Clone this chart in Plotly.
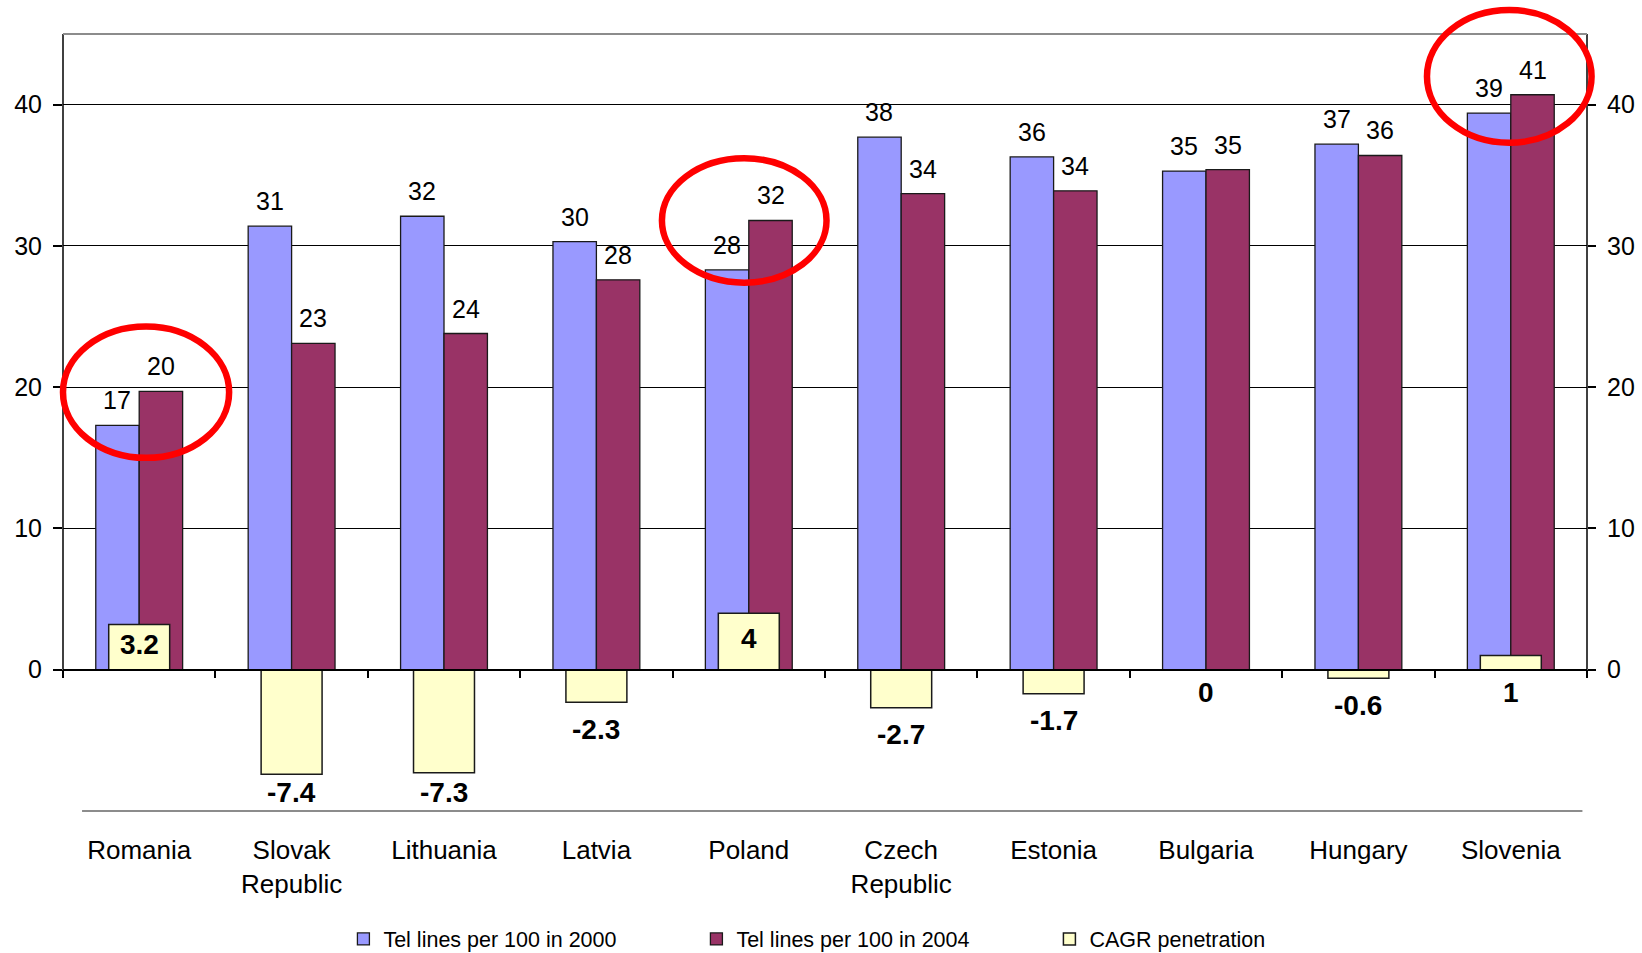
import plotly.graph_objects as go

# Fixed-line telephone penetration, 2000 vs 2004, and its compound annual growth
countries = ["Romania", "Slovak<br>Republic", "Lithuania", "Latvia", "Poland",
             "Czech<br>Republic", "Estonia", "Bulgaria", "Hungary", "Slovenia"]
lines_2000 = [17.3, 31.4, 32.1, 30.3, 28.3, 37.7, 36.3, 35.3, 37.2, 39.4]
lines_2004 = [19.7, 23.1, 23.8, 27.6, 31.8, 33.7, 33.9, 35.4, 36.4, 40.7]
cagr = [3.2, -7.4, -7.3, -2.3, 4, -2.7, -1.7, 0, -0.6, 1]
y_ticks = [0, 10, 20, 30, 40]

# Highlight rings around selected countries: (x from, x to, y from, y to) in data units
highlights = [(-0.50, 0.59, 15.0, 24.3),
              (3.43, 4.51, 27.4, 36.2),
              (8.45, 9.53, 37.3, 46.7)]

FONT = "Liberation Sans, Arial, sans-serif"
Y_RANGE = [-10, 45]
BARGAP = 0.43
N = len(countries)
PLOT_H = 953 - 34 - 142
UNIT_PX = PLOT_H / (Y_RANGE[1] - Y_RANGE[0])   # pixels per data unit

fig = go.Figure()
for name, vals, color in (("Tel lines per 100 in 2000", lines_2000, "#9999FF"),
                          ("Tel lines per 100 in 2004", lines_2004, "#993366")):
    fig.add_trace(go.Bar(
        name=name, x=countries, y=vals,
        marker=dict(color=color, line=dict(color="#1a1a1a", width=1.3)),
        xaxis="x", yaxis="y"))
fig.add_trace(go.Bar(
    name="CAGR penetration", x=countries, y=cagr, width=0.4,
    marker=dict(color="#FFFFCC", line=dict(color="#1a1a1a", width=1.5)),
    xaxis="x2", yaxis="y2"))

# Value labels above each grouped bar (bars sit half a bar width either side of the category)
half_bar = (1 - BARGAP) / 4
for i in range(N):
    for vals, side in ((lines_2000, -1), (lines_2004, 1)):
        fig.add_annotation(x=i + side * half_bar, y=vals[i], xref="x", yref="y",
                           text=f"{vals[i]:.0f}", showarrow=False, yshift=25,
                           yanchor="middle", font=dict(size=25, family=FONT, color="black"))

# CAGR value labels: inside tall positive bars, below the bar (or the zero line) otherwise,
# kept clear of the bottom edge of the plot
below_gap = 27 / UNIT_PX
lowest = Y_RANGE[0] + 1.3
for c, v in zip(countries, cagr):
    if v >= 2:
        y, shift = v / 2, 3
    elif v >= 0:
        y, shift = -23 / UNIT_PX, 0
    else:
        y, shift = max(v - below_gap, lowest), 0
    fig.add_annotation(x=c, y=y, xref="x2", yref="y2", text=f"<b>{v:g}</b>",
                       showarrow=False, yshift=shift, yanchor="middle",
                       font=dict(size=28, family=FONT, color="black"))


def px(x):
    return (x + 0.5) / N


def py(y):
    return (y - Y_RANGE[0]) / (Y_RANGE[1] - Y_RANGE[0])


shapes = []
# value axes drawn from zero up to the top of the scale
for xp in (0, 1):
    shapes.append(dict(type="line", xref="paper", yref="y", x0=xp, x1=xp,
                       y0=0, y1=Y_RANGE[1], line=dict(color="black", width=1.5),
                       layer="above"))
# grey frame line on top and the category baseline at the bottom
shapes.append(dict(type="line", xref="paper", yref="paper", x0=0, x1=1, y0=1, y1=1,
                   line=dict(color="#8c8c8c", width=2), layer="above"))
shapes.append(dict(type="line", xref="paper", yref="paper", x0=0.0125, x1=0.997,
                   y0=0, y1=0, line=dict(color="#8c8c8c", width=2), layer="above"))
for x0, x1, y0, y1 in highlights:
    shapes.append(dict(type="circle", xref="paper", yref="paper",
                       x0=px(x0), x1=px(x1), y0=py(y0), y1=py(y1),
                       line=dict(color="#FF0000", width=6.5), layer="above"))

fig.update_layout(
    width=1642, height=953,
    margin=dict(l=63, r=55, t=34, b=142, autoexpand=False),
    paper_bgcolor="white", plot_bgcolor="white",
    barmode="group", bargap=BARGAP, bargroupgap=0,
    font=dict(family=FONT, size=25, color="black"),
    shapes=shapes,
    xaxis=dict(type="category", showline=False, ticks="", tickfont=dict(size=26),
               automargin=False, ticklabelstandoff=21, showgrid=False, zeroline=False),
    xaxis2=dict(type="category", overlaying="x", anchor="free",
                position=py(0), showline=True, linecolor="black", linewidth=1.5,
                ticks="outside", ticklen=8, tickwidth=1.5, tickcolor="black",
                tickson="boundaries", showticklabels=False, showgrid=False,
                zeroline=False, automargin=False),
    yaxis=dict(range=Y_RANGE, tickvals=y_ticks, ticks="outside", ticklen=9,
               tickwidth=1.5, tickcolor="black", showgrid=True, automargin=False,
               gridcolor="black", gridwidth=1, zeroline=False, showline=False,
               tickfont=dict(size=25), ticklabelstandoff=6),
    yaxis2=dict(range=Y_RANGE, overlaying="y", side="right", anchor="x",
                tickvals=y_ticks, ticks="outside", ticklen=8, tickwidth=1.5,
                tickcolor="black", showgrid=False, zeroline=False, automargin=False,
                showline=False, tickfont=dict(size=25), ticklabelstandoff=6),
    legend=dict(orientation="h", x=0.184, y=-0.1647, yref="paper",
                xanchor="left", yanchor="middle", font=dict(size=21.5, family=FONT),
                entrywidth=308, traceorder="normal"),
)

fig.write_html("out.html")
